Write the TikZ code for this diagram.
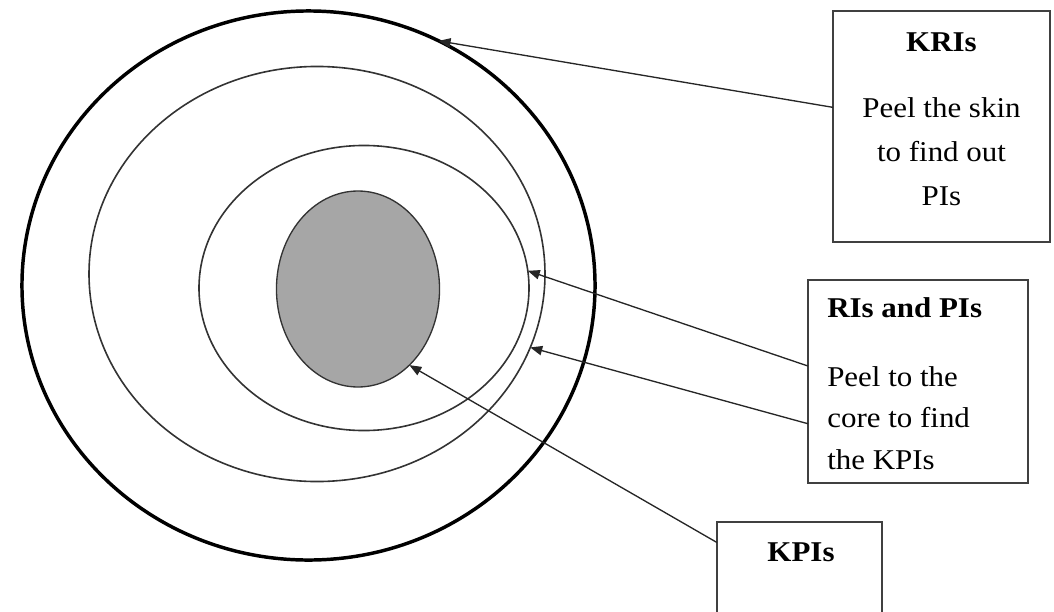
\documentclass[tikz,border=0pt]{standalone}
\usepackage{fontspec}
\setmainfont{Liberation Serif}[FakeStretch=1.08]
\usetikzlibrary{shapes.geometric,arrows.meta}
\definecolor{coregray}{RGB}{166,166,166}

\begin{document}
\begin{tikzpicture}[x=0.75pt,y=-0.75pt,
   ring/.style={draw,ellipse,inner sep=0pt,outer sep=0pt},
   box/.style={draw=black!75,line width=1pt,inner sep=0pt,outer sep=0pt},
   head/.style={font=\fontsize{21.5}{24}\selectfont\bfseries,inner sep=0pt},
   body/.style={font=\fontsize{21.5}{33}\selectfont,inner sep=0pt},
   pointer/.style={-{Triangle[length=9pt,width=7pt]},line width=1pt,black!85}]
\useasboundingbox (0,0) rectangle (1054,611);
\clip (0,0) rectangle (1054,611);

\node[ring,line width=2.6pt,minimum width=429.8pt,minimum height=411.8pt] (outer) at (308.5,285.5) {};
\node[ring,draw=black!80,line width=1.2pt,minimum width=342pt,minimum height=311.3pt] (middle) at (317,274) {};
\node[ring,draw=black!80,line width=1.2pt,minimum width=247.5pt,minimum height=213.8pt] (inner) at (364,288) {};
\node[ring,draw=black!80,fill=coregray,line width=1pt,minimum width=122.3pt,minimum height=147pt] (core) at (358,289) {};

\node[box,minimum width=162.8pt,minimum height=173.3pt] (kri) at (941.5,126.5) {};
\node[head] (kri title) at (941.5,42) {KRIs};
\node[body,align=center] (kri text) at (941.5,152) {Peel the skin\\to find out\\PIs};

\node[box,minimum width=165pt,minimum height=152.3pt] (ri) at (918,381.5) {};
\node[head,anchor=west] (ri title) at (827,308) {RIs and PIs};
\node[body,font=\fontsize{21.5}{31}\selectfont,align=left,anchor=west] (ri text) at (827,418) {Peel to the\\core to find\\the KPIs};

\node[box,minimum width=123.8pt,minimum height=88.5pt] (kpi) at (799.5,581) {};
\node[head] (kpi title) at (801,552) {KPIs};

\draw[pointer] (kri.170) -- (outer.62);
\draw[pointer] (ri.172) -- (inner.6);
\draw[pointer] (ri.201) -- (middle.-19);
\draw[pointer] (kpi.155) -- (core.-56);
\end{tikzpicture}
\end{document}
